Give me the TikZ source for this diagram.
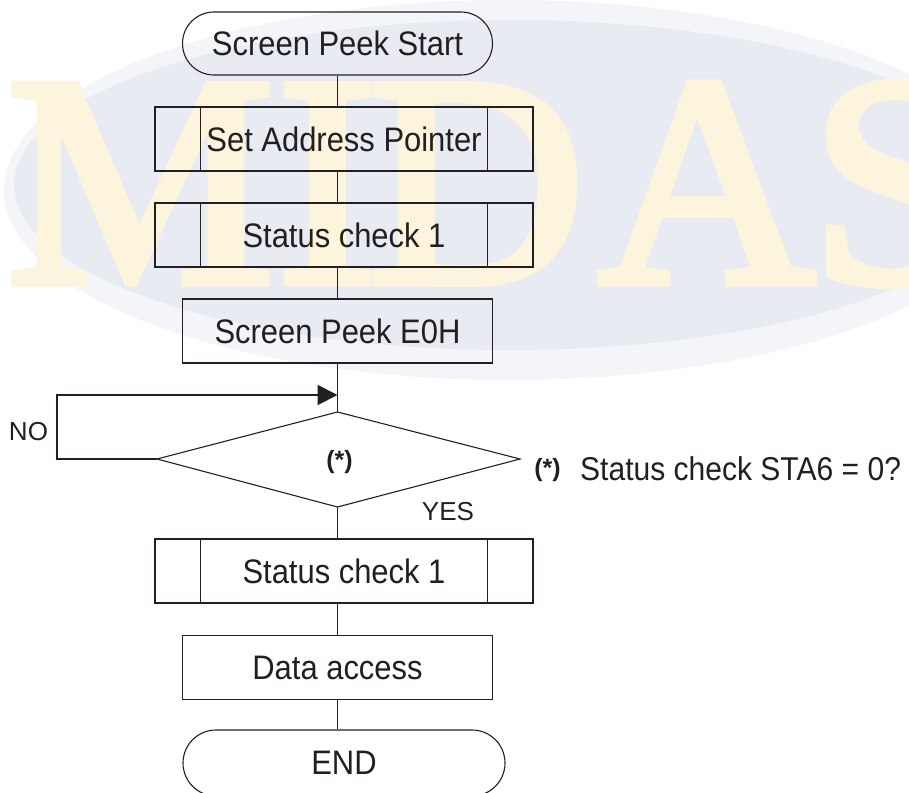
\documentclass[tikz,border=0pt]{standalone}
\usepackage{fontspec}
\setmainfont{Liberation Sans}[FakeStretch=0.91]
\newfontfamily\labelfont{Liberation Sans}
\newfontfamily\wmfont{Liberation Serif}[FakeBold=3]
\usetikzlibrary{arrows.meta}
\definecolor{ink}{HTML}{231F20}
\definecolor{wmletter}{HTML}{FCF4DC}
\definecolor{wmouter}{HTML}{F4F5F9}
\definecolor{wminner}{HTML}{E9EBF3}
\tikzset{
  base/.style={draw=ink, line width=1.1pt, text=ink, inner sep=0pt,
    font=\fontsize{34}{40}\selectfont},
  terminal/.style={base, rounded corners=31.5pt, minimum width=310pt, minimum height=63pt},
  procbox/.style={base, minimum width=310pt, minimum height=64pt},
  subproc/.style={base, minimum width=378pt, minimum height=64pt,
    path picture={
      \draw[ink, line width=1.1pt]
        ([xshift=45.5pt]path picture bounding box.north west) --
        ([xshift=45.5pt]path picture bounding box.south west);
      \draw[ink, line width=1.1pt]
        ([xshift=-45.5pt]path picture bounding box.north east) --
        ([xshift=-45.5pt]path picture bounding box.south east);}},
  conn/.style={draw=ink, line width=1.1pt},
  loopline/.style={draw=ink, line width=2pt, -{Triangle[length=20pt,width=20pt]}},
  smalllabel/.style={text=ink, inner sep=0pt, font=\labelfont\fontsize{26}{30}\selectfont},
  starlabel/.style={text=ink, inner sep=0pt, font=\labelfont\bfseries\fontsize{25}{30}\selectfont},
  wm/.style={text=wmletter, inner sep=0pt, anchor=base west, font=\wmfont\fontsize{300}{300}\selectfont}
}
\begin{document}
\begin{tikzpicture}[x=1pt, y=-1pt]
\useasboundingbox (0,0) rectangle (909,792);
\clip (0,0) rectangle (909,792);
% watermark
\fill[wmouter] (509,190) ellipse [x radius=505, y radius=190];
\fill[wminner] (509,185) ellipse [x radius=495, y radius=165];
\node[wm] (wmM) at (7,282) {M};
\node[wm] (wmI) at (277,282) {I};
\node[wm] (wmD) at (368,282) {D};
\node[wm] (wmA) at (598,282) {A};
\node[wm] (wmS) at (810,282) {S};
% flowchart nodes
\node[terminal] (start) at (337.5,43.5) {Screen Peek Start};
\node[subproc] (sap) at (344,139) {Set Address Pointer};
\node[subproc] (sc1) at (344,235) {Status check 1};
\node[procbox] (peek) at (337.5,331) {Screen Peek E0H};
\coordinate (dtop) at (337.5,412);
\coordinate (dleft) at (157,459);
\coordinate (dright) at (520,459);
\coordinate (dbot) at (337.5,507);
\draw[conn] (dtop) -- (dright) -- (dbot) -- (dleft) -- cycle;
\node[starlabel] (dia) at (339.5,462) {(*)};
\node[subproc] (sc2) at (344,571) {Status check 1};
\node[procbox] (data) at (337.5,667.5) {Data access};
\node[terminal, minimum width=322pt, minimum height=66pt, rounded corners=33pt] (fin) at (344,763) {END};
% labels
\node[smalllabel] (no) at (28.5,432) {NO};
\node[smalllabel] (yes) at (448,512) {YES};
\node[starlabel] (star) at (547.5,470) {(*)};
\node[text=ink, inner sep=0pt, anchor=base west, font=\fontsize{33}{40}\selectfont] (cond) at (580,480) {Status check STA6 = 0?};
% connectors
\coordinate (merge) at (337.5,395);
\coordinate (loopcorner) at (56.5,459);
\draw[conn] (start.south) -- (start.south |- sap.north);
\draw[conn] (start.south |- sap.south) -- (start.south |- sc1.north);
\draw[conn] (start.south |- sc1.south) -- (peek.north);
\draw[conn] (peek.south) -- (dtop);
\draw[loopline] (dleft) -- (loopcorner) |- (merge);
\draw[conn] (dbot) -- (dbot |- sc2.north);
\draw[conn] (dbot |- sc2.south) -- (data.north);
\draw[conn] (data.south) -- (data.south |- fin.north);
\end{tikzpicture}
\end{document}
